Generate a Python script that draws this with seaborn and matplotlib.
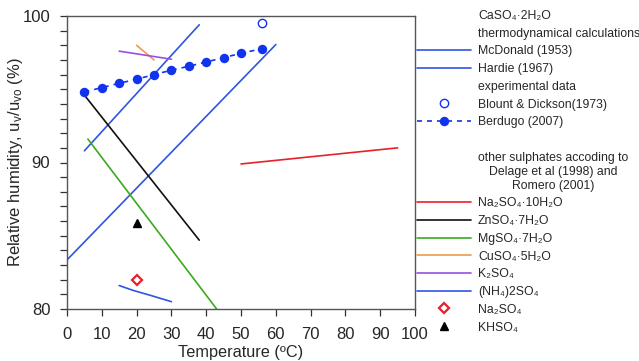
import numpy as np
import pandas as pd
import matplotlib
matplotlib.use("Agg")
import matplotlib.pyplot as plt
from matplotlib.lines import Line2D
import seaborn as sns

# CaSO4.2H2O
mcdonald_t = [5, 38]
mcdonald_rh = [90.8, 99.4]
hardie_t = [0, 60]
hardie_rh = [83.35, 98.05]
blount_t = [56]
blount_rh = [99.5]
berdugo_t = [5, 10, 15, 20, 25, 30, 35, 40, 45, 50, 56]
berdugo_rh = [94.82, 95.11, 95.41, 95.68, 96.0, 96.3, 96.57, 96.86, 97.16, 97.45, 97.77]

# other sulphates
na10_t = [50, 95]
na10_rh = [89.9, 91.0]
zn_t = [5, 38]
zn_rh = [94.6, 84.7]
mg_t = [6, 43]
mg_rh = [91.6, 80.0]
cu_t = [20, 25]
cu_rh = [98.0, 97.0]
k_t = [15, 30]
k_rh = [97.6, 97.05]
nh4_t = [15, 19, 24, 30]
nh4_rh = [81.6, 81.27, 80.93, 80.5]
na_t = [20]
na_rh = [82.0]
khso4_t = [20]
khso4_rh = [85.9]

sns.set_theme(style="ticks")
plt.rcParams['font.family'] = ['Liberation Sans', 'DejaVu Sans']
plt.rcParams['mathtext.fontset'] = 'custom'
plt.rcParams['mathtext.rm'] = 'Liberation Sans'
plt.rcParams['mathtext.default'] = 'regular'

fig = plt.figure(figsize=(6.39, 3.61), dpi=100)
ax = fig.add_axes([67/639, 1-309/361, 348/639, 293/361])

blue = '#2f55e0'
dot_blue = '#1133ee'
lw = 1.2
lines = [
    (mcdonald_t, mcdonald_rh, blue),
    (hardie_t, hardie_rh, blue),
    (na10_t, na10_rh, '#e8202a'),
    (zn_t, zn_rh, '#111111'),
    (mg_t, mg_rh, '#3aaa1e'),
    (cu_t, cu_rh, '#f0994a'),
    (k_t, k_rh, '#9a4fe0'),
    (nh4_t, nh4_rh, '#2f55e0'),
]
for t, rh, c in lines:
    sns.lineplot(x=t, y=rh, color=c, lw=lw, ax=ax, sort=False)

sns.lineplot(x=berdugo_t, y=berdugo_rh, color=dot_blue, lw=lw, ls=(0, (3, 3)),
             marker='o', markersize=6.8, markeredgewidth=0, ax=ax)
ax.plot(blount_t, blount_rh, 'o', mfc='white', mec=dot_blue, ms=6, mew=1)
ax.plot(na_t, na_rh, 'D', mfc='white', mec='#e8202a', ms=5, mew=1.6)
ax.plot(khso4_t, khso4_rh, '^', color='black', ms=6)

ax.set_xlim(0, 100)
ax.set_ylim(80, 100)
ax.set_xticks(np.arange(0, 101, 10))
ax.set_yticks([80, 90, 100])
ax.set_yticks(np.arange(80, 101, 1), minor=True)
ax.tick_params(axis='both', which='major', direction='out', length=5, width=0.9,
               color='#333333', labelsize=12)
ax.tick_params(axis='x', which='major', pad=8)
ax.tick_params(axis='y', which='major', pad=7)
ax.tick_params(axis='y', which='minor', direction='out', length=5, width=0.9, color='#333333')
for s in ax.spines.values():
    s.set_color('#555555')
    s.set_linewidth(1.0)
ax.set_xlabel('Temperature (ºC)', fontsize=11.7, labelpad=2)
ax.set_ylabel('Relative humidity, u$_v$/u$_{vo}$ (%)', fontsize=12)
ax.yaxis.set_label_coords(-0.12, 0.5)

blank = Line2D([], [], color='none')
handles = [
    blank, blank,
    Line2D([], [], color=blue, lw=lw),
    Line2D([], [], color=blue, lw=lw),
    blank,
    Line2D([], [], ls='none', marker='o', mfc='white', mec=dot_blue, ms=6),
    Line2D([], [], color=dot_blue, ls=(0, (3, 3)), lw=lw, marker='o', ms=6.8, mew=0),
    blank,
    blank,
    Line2D([], [], color='#e8202a', lw=lw),
    Line2D([], [], color='#111111', lw=lw),
    Line2D([], [], color='#3aaa1e', lw=lw),
    Line2D([], [], color='#f0994a', lw=lw),
    Line2D([], [], color='#9a4fe0', lw=lw),
    Line2D([], [], color='#2f55e0', lw=lw),
    Line2D([], [], ls='none', marker='D', mfc='white', mec='#e8202a', ms=5, mew=1.6),
    Line2D([], [], ls='none', marker='^', color='black', ms=6),
]
labels = [
    'CaSO₄·2H₂O',
    'thermodynamical calculations',
    'McDonald (1953)',
    'Hardie (1967)',
    'experimental data',
    'Blount & Dickson(1973)',
    'Berdugo (2007)',
    ' ',
    'other sulphates accoding to\nDelage et al (1998) and\nRomero (2001)',
    'Na₂SO₄·10H₂O',
    'ZnSO₄·7H₂O',
    'MgSO₄·7H₂O',
    'CuSO₄·5H₂O',
    'K₂SO₄',
    '(NH₄)2SO₄',
    'Na₂SO₄',
    'KHSO₄',
]
leg = fig.legend(handles, labels, loc='upper left', bbox_to_anchor=(417/639, 1-10/361),
                 frameon=False, fontsize=8.8, handlelength=4.4, handletextpad=0.6,
                 labelspacing=0.47, borderpad=0, borderaxespad=0)
for txt in leg.get_texts():
    txt.set_multialignment('center')

fig.savefig('out.png', dpi=100)
